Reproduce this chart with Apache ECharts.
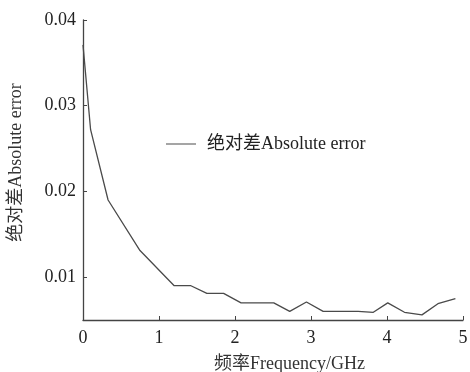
<!DOCTYPE html>
<html><head><meta charset="utf-8">
<script src="https://cdn.jsdelivr.net/npm/echarts@6/dist/echarts.min.js"></script>
<style>html,body{margin:0;padding:0;background:#fff}#c{width:470px;height:372px}</style>
</head><body><div id="c"></div>
<script>
var freq = [0, 0.1, 0.33, 0.75, 1.2, 1.42, 1.63, 1.85, 2.08, 2.51, 2.72, 2.94, 3.16, 3.62, 3.82, 4.01, 4.23, 4.46, 4.67, 4.9];
var absErr = [0.0371, 0.0272, 0.019, 0.0131, 0.009, 0.009, 0.0081, 0.0081, 0.007, 0.007, 0.006, 0.0071, 0.006, 0.006, 0.0059, 0.007, 0.0059, 0.0056, 0.0069, 0.0075];
var yTicks = [0.01, 0.02, 0.03, 0.04];
var xTicks = [0, 1, 2, 3, 4, 5];
var seriesName = '绝对差Absolute error';
var xName = '频率Frequency/GHz';
var yName = '绝对差Absolute error';

var FONT = '"Liberation Serif", "Noto Sans CJK SC", serif';
var FS = 18;
var chart = echarts.init(document.getElementById('c'), null, {renderer: 'canvas'});
chart.setOption({
  animation: false,
  backgroundColor: '#fff',
  color: ['#4a4a4a'],
  textStyle: {fontFamily: FONT},
  grid: {left: 83, right: 7, top: 20, bottom: 52, containLabel: false, outerBoundsMode: 'none'},
  legend: {
    left: 166, top: 135, padding: 0, itemWidth: 30, itemHeight: 14,
    data: [{name: seriesName, icon: 'path://M0,0 L30,0 L30,1 L0,1 Z', itemStyle: {color: '#4a4a4a'}}],
    textStyle: {fontFamily: FONT, fontSize: FS, color: '#222', padding: [0, 0, 0, 6]}
  },
  xAxis: {
    type: 'value', min: 0, max: 5, interval: 1,
    name: xName, nameLocation: 'middle', nameGap: 35,
    nameTextStyle: {fontFamily: FONT, fontSize: FS, color: '#333', padding: [0, 0, 0, 33]},
    axisLine: {show: true, lineStyle: {color: '#444', width: 1.3}},
    axisTick: {show: true, inside: true, length: 4, lineStyle: {color: '#444'}, customValues: xTicks},
    axisLabel: {fontFamily: FONT, fontSize: FS, color: '#222', margin: 9, customValues: xTicks},
    splitLine: {show: false}
  },
  yAxis: {
    type: 'value', min: 0.005, max: 0.04,
    name: yName, nameLocation: 'middle', nameGap: 58,
    nameTextStyle: {fontFamily: FONT, fontSize: FS, color: '#333', padding: [0, 0, 0, 15]},
    axisLine: {show: true, lineStyle: {color: '#444', width: 1.3}},
    axisTick: {show: true, inside: true, length: 4, lineStyle: {color: '#444'}, customValues: yTicks},
    axisLabel: {fontFamily: FONT, fontSize: FS, color: '#222', margin: 7, customValues: yTicks,
      formatter: function (v) { return v.toFixed(2); }},
    splitLine: {show: false}
  },
  series: [{
    name: seriesName, type: 'line', symbol: 'none',
    data: freq.map(function (f, i) { return [f, absErr[i]]; }),
    lineStyle: {color: '#4a4a4a', width: 1.3}
  }]
});
</script></body></html>
